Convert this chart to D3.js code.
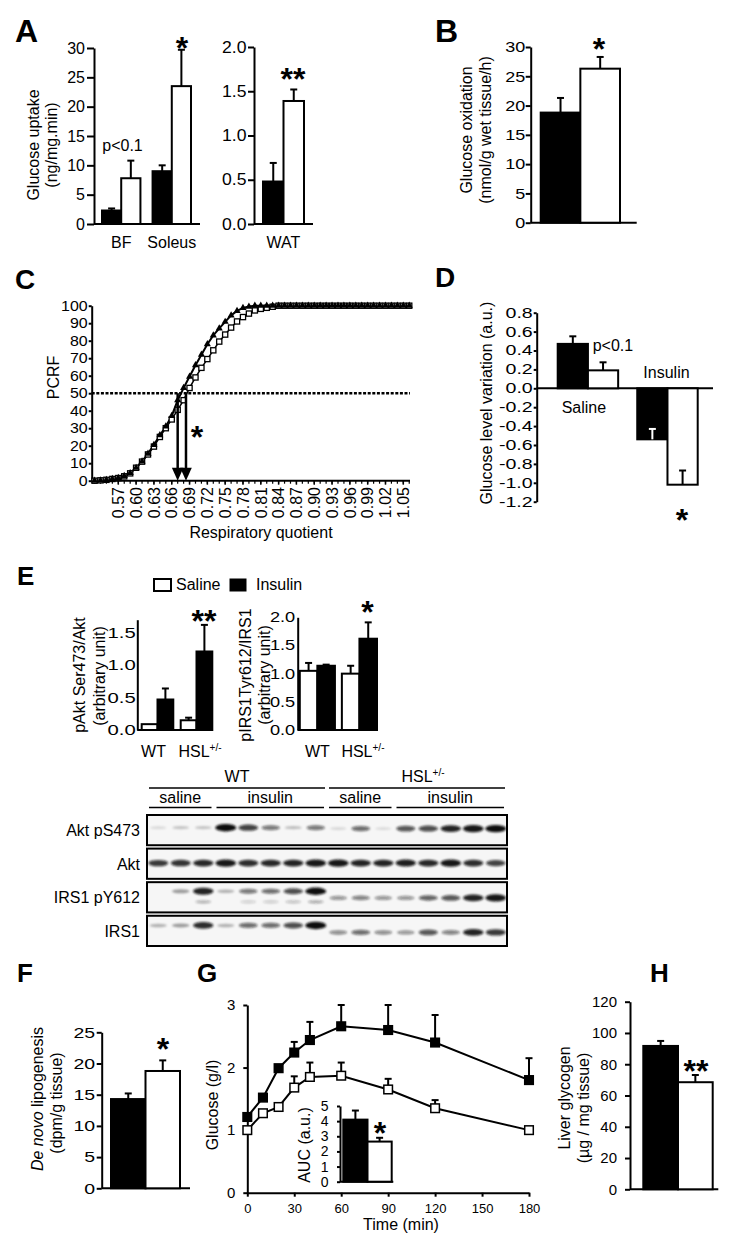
<!DOCTYPE html>
<html><head><meta charset="utf-8">
<script src="https://cdn.jsdelivr.net/npm/d3@7"></script>
<style>body{margin:0;background:#fff}</style>
</head><body>
<script>
// ================= DATA =================
// Panel A – glucose uptake
const aMuscles = ["BF", "Soleus"];
const aMuscleBlack = [2.3, 9.0];
const aMuscleBlackSem = [0.35, 1.0];
const aMuscleWhite = [7.8, 23.5];
const aMuscleWhiteSem = [3.0, 6.2];
const aMuscleTicks = [0, 5, 10, 15, 20, 25, 30];
const aWat = ["WAT"];
const aWatBlack = [0.48];
const aWatBlackSem = [0.21];
const aWatWhite = [1.39];
const aWatWhiteSem = [0.13];
const aWatTicks = [0, 0.5, 1.0, 1.5, 2.0];
// Panel B – glucose oxidation
const bGroup = ["all"];
const bBlack = [18.8];
const bBlackSem = [2.5];
const bWhite = [26.3];
const bWhiteSem = [2.0];
const bTicks = [0, 5, 10, 15, 20, 25, 30];
// Panel C – PCRF vs respiratory quotient
const cRQ = [0.53,0.54,0.55,0.56,0.57,0.58,0.59,0.60,0.61,0.62,0.63,0.64,0.65,0.66,0.67,0.68,0.69,0.70,0.71,0.72,0.73,0.74,0.75,0.76,0.77,0.78,0.79,0.80,0.81,0.82,0.83,0.84,0.85,0.86,0.87,0.88,0.89,0.90,0.91,0.92,0.93,0.94,0.95,0.96,0.97,0.98,0.99,1.00,1.01,1.02,1.03,1.04,1.05,1.06];
const cBlack = [0,0.2,0.5,1,1.6,2.7,4.4,7.4,11,15.5,20.5,26,31,37,46,53,59.5,66,72,78,83,87,90.8,94.5,97,98.7,99.5,100,100,100,100,100,100,100,100,100,100,100,100,100,100,100,100,100,100,100,100,100,100,100,100,100,100,100];
const cWhite = [0,0.2,0.5,1,1.5,2.5,4.2,7.4,10.9,15,19.5,25,30,35,40.5,46,53,59,64.5,69.5,74.5,79.5,83.5,87.5,91,93.5,95.5,97.3,98.2,98.8,99.4,100,100,100,100,100,100,100,100,100,100,100,100,100,100,100,100,100,100,100,100,100,100,100];
const cTickLabels = ["0.57","0.60","0.63","0.66","0.69","0.72","0.75","0.78","0.81","0.84","0.87","0.90","0.93","0.96","0.99","1.02","1.05"];
const cYTicks = [0,10,20,30,40,50,60,70,80,90,100];
const cMedianLine = 50;
const cMedians = [0.670, 0.684];
// Panel D – glucose level variation
const dGroups = ["Saline", "Insulin"];
const dBlack = [0.47, -0.54];
const dBlackSem = [0.08, 0.11];
const dWhite = [0.19, -1.02];
const dWhiteSem = [0.085, 0.15];
const dTicks = [0.8,0.6,0.4,0.2,0.0,-0.2,-0.4,-0.6,-0.8,-1.0,-1.2];
// Panel E – western blot quantification
const eGroups = ["WT", "HSL"];
const eAktSaline = [0.09, 0.15];
const eAktSalineSem = [0.0, 0.04];
const eAktInsulin = [0.47, 1.21];
const eAktInsulinSem = [0.17, 0.41];
const eAktTicks = [0, 0.5, 1.0, 1.5];
const eIrsSaline = [1.05, 1.0];
const eIrsSalineSem = [0.14, 0.14];
const eIrsInsulin = [1.14, 1.62];
const eIrsInsulinSem = [0.02, 0.29];
const eIrsTicks = [0, 0.5, 1.0, 1.5, 2.0];
// Blots (relative band intensity per lane)
const blotRows = ["Akt pS473", "Akt", "IRS1 pY612", "IRS1"];
const blotAktP = [0.03,0.12,0.12,1.0,0.75,0.5,0.15,0.5,0.04,0.55,0.03,0.65,0.7,0.9,0.95,1.0];
const blotAkt = [0.8,0.82,0.88,0.95,0.85,0.88,0.9,0.95,0.95,0.9,0.9,0.92,0.88,0.95,0.85,0.75];
const blotIrsP = [0,0.3,0.9,0.2,0.5,0.55,0.7,1.0,0.35,0.45,0.35,0.35,0.6,0.65,0.9,0.95];
const blotIrs = [0.2,0.3,0.85,0.2,0.55,0.55,0.7,1.0,0.4,0.55,0.4,0.35,0.65,0.45,0.9,0.8];
const blotGenotypes = ["WT", "HSL"];
const blotTreatments = ["saline", "insulin", "saline", "insulin"];
const blotTreatmentLanes = [3, 5, 3, 5];
// Panel F – de novo lipogenesis
const fGroup = ["all"];
const fBlack = [14.3];
const fBlackSem = [0.9];
const fWhite = [18.8];
const fWhiteSem = [1.7];
const fTicks = [0, 5, 10, 15, 20, 25];
// Panel G – glucose tolerance
const gTime = [0, 10, 20, 30, 40, 60, 90, 120, 180];
const gBlack = [1.21, 1.52, 1.99, 2.24, 2.44, 2.66, 2.60, 2.40, 1.80];
const gBlackSem = [0, 0, 0, 0.17, 0.29, 0.34, 0.40, 0.44, 0.35];
const gWhite = [1.0, 1.27, 1.37, 1.68, 1.85, 1.87, 1.65, 1.35, 1.0];
const gWhiteSem = [0, 0, 0, 0.18, 0.23, 0.21, 0.17, 0.13, 0];
const gXTicks = [0, 30, 60, 90, 120, 150, 180];
const gYTicks = [0, 1, 2, 3];
const gAucGroup = ["AUC"];
const gAucBlack = [4.1];
const gAucBlackSem = [0.6];
const gAucWhite = [2.65];
const gAucWhiteSem = [0.25];
const gAucTicks = [0, 1, 2, 3, 4, 5];
// Panel H – liver glycogen
const hGroup = ["all"];
const hBlack = [91.7];
const hBlackSem = [3.2];
const hWhite = [68.5];
const hWhiteSem = [4.6];
const hTicks = [0, 20, 40, 60, 80, 100, 120];

// ================= HELPERS =================
const FONT = "'Liberation Sans', Arial, Helvetica, sans-serif";
const svg = d3.select("body").append("svg")
  .attr("width", 729).attr("height", 1243)
  .attr("font-family", FONT)
  .style("background", "#fff");

const defs = svg.append("defs");
defs.append("filter").attr("id", "blur").attr("x", "-50%").attr("y", "-100%").attr("width", "200%").attr("height", "300%")
  .append("feGaussianBlur").attr("stdDeviation", 1.1);

function txt(g, x, y, s, o = {}) {
  const t = g.append("text").attr("x", x).attr("y", y)
    .attr("font-size", o.fs || 16).attr("fill", "#000")
    .attr("text-anchor", o.anchor || "start");
  if (o.weight) t.attr("font-weight", o.weight);
  if (o.rot) t.attr("transform", `rotate(-90,${x},${y})`);
  t.text(s);
  return t;
}
function star(g, cx, top, s) {
  const fs = 32;
  return txt(g, cx, top + 0.73 * fs, s, { fs, anchor: "middle", weight: "bold" });
}
function letter(g, x, y, s, fs) { return txt(g, x, y, s, { fs, weight: "bold" }); }

function yAxis(g, y, x, ticks, o) {
  const fmt = o.fmt || (v => String(v));
  const ax = d3.axisLeft(y).tickValues(ticks).tickSize(o.ts).tickSizeOuter(0)
    .tickPadding(o.pad).tickFormat(fmt);
  const a = g.append("g").attr("transform", `translate(${x},0)`).call(ax);
  a.attr("font-family", FONT);
  a.select(".domain").attr("stroke", "#000").attr("stroke-width", 2);
  a.selectAll(".tick line").attr("stroke", "#000").attr("stroke-width", 2);
  const t = a.selectAll(".tick text").attr("font-size", o.fs).attr("fill", "#000");
  if (o.sx) t.attr("x", -(o.ts + o.pad) / o.sx).attr("transform", `scale(${o.sx},1)`);
  return a;
}
function hLine(g, x1, x2, y, w = 2) {
  g.append("line").attr("x1", x1).attr("x2", x2).attr("y1", y).attr("y2", y)
    .attr("stroke", "#000").attr("stroke-width", w);
}
function errBar(g, cx, y1, y2, color, cap = 3.5) {
  g.append("line").attr("x1", cx).attr("x2", cx).attr("y1", y1).attr("y2", y2)
    .attr("stroke", color).attr("stroke-width", 2);
  g.append("line").attr("x1", cx - cap).attr("x2", cx + cap).attr("y1", y2).attr("y2", y2)
    .attr("stroke", color).attr("stroke-width", 2);
}
// grouped bars: series = [{vals, sems, fill}]
function bars(g, groups, series, range, pi, y) {
  const xg = d3.scaleBand().domain(groups).range(range).paddingInner(pi).paddingOuter(0);
  const xs = d3.scaleBand().domain(d3.range(series.length)).range([0, xg.bandwidth()]);
  groups.forEach((grp, i) => {
    series.forEach((s, j) => {
      const v = s.vals[i], e = s.sems[i];
      const x0 = xg(grp) + xs(j), w = xs.bandwidth();
      const yv = y(v), y0 = y(0);
      g.append("rect").attr("x", x0).attr("width", w)
        .attr("y", Math.min(yv, y0)).attr("height", Math.abs(yv - y0))
        .attr("fill", s.fill).attr("stroke", "#000").attr("stroke-width", 2);
      if (e > 0) {
        if (v >= 0) errBar(g, x0 + w / 2, yv, y(v + e), "#000");
        else errBar(g, x0 + w / 2, yv, y(v + e), s.fill === "#000" ? "#fff" : "#000");
      }
    });
  });
  return xg;
}
const BLACK = "#000", WHITE = "#fff";

// ================= PANEL A =================
{
  const g = svg.append("g");
  letter(g, 15, 42, "A", 32);
  const y = d3.scaleLinear().domain([0, 30]).range([224, 48]);
  yAxis(g, y, 94, aMuscleTicks, { ts: 7, pad: 2, fs: 16 });
  hLine(g, 94, 200, y(0));
  const xg = bars(g, aMuscles, [
    { vals: aMuscleBlack, sems: aMuscleBlackSem, fill: BLACK },
    { vals: aMuscleWhite, sems: aMuscleWhiteSem, fill: WHITE }], [102, 191], 0.24, y);
  aMuscles.forEach(m => txt(g, xg(m) + xg.bandwidth() / 2, 248, m, { anchor: "middle" }));
  txt(g, 122.5, 151, "p<0.1", { anchor: "middle" });
  star(g, 182, 36, "*");
  txt(g, 39, 145, "Glucose uptake", { rot: true, anchor: "middle" });
  txt(g, 57, 145, "(ng/mg.min)", { rot: true, anchor: "middle" });

  const y2 = d3.scaleLinear().domain([0, 2]).range([224, 47]);
  yAxis(g, y2, 254, aWatTicks, { ts: 6, pad: 1.5, fs: 16, sx: 1.1, fmt: v => v.toFixed(1) });
  hLine(g, 254, 313, y2(0));
  const xw = bars(g, aWat, [
    { vals: aWatBlack, sems: aWatBlackSem, fill: BLACK },
    { vals: aWatWhite, sems: aWatWhiteSem, fill: WHITE }], [263, 304], 0, y2);
  txt(g, xw("WAT") + xw.bandwidth() / 2, 248, "WAT", { anchor: "middle" });
  star(g, 293, 67, "**");
}

// ================= PANEL B =================
{
  const g = svg.append("g");
  letter(g, 435, 42, "B", 32);
  const y = d3.scaleLinear().domain([0, 30]).range([222.7, 47]);
  yAxis(g, y, 530.7, bTicks, { ts: 5, pad: 0.5, fs: 15, sx: 1.2 });
  hLine(g, 530.7, 636.7, y(0));
  bars(g, bGroup, [
    { vals: bBlack, sems: bBlackSem, fill: BLACK },
    { vals: bWhite, sems: bWhiteSem, fill: WHITE }], [540.7, 620], 0, y);
  star(g, 599, 37, "*");
  txt(g, 472, 130, "Glucose oxidation", { rot: true, anchor: "middle" });
  txt(g, 491, 130, "(nmol/g wet tissue/h)", { rot: true, anchor: "middle" });
}

// ================= PANEL C =================
{
  const g = svg.append("g");
  letter(g, 15, 289, "C", 28);
  const x = d3.scaleLinear().domain([0.57, 1.05]).range([118.3, 403.3]);
  const y = d3.scaleLinear().domain([0, 100]).range([480.7, 305.7]);
  yAxis(g, y, 91.7, cYTicks, { ts: 3, pad: 1, fs: 14, sx: 1.14 });
  hLine(g, 91.7, 410, y(0));
  cRQ.forEach(r => g.append("line").attr("x1", x(r)).attr("x2", x(r))
    .attr("y1", y(0)).attr("y2", y(0) + 3).attr("stroke", "#000").attr("stroke-width", 1.2));
  cTickLabels.forEach(l => {
    const xx = x(+l);
    g.append("line").attr("x1", xx).attr("x2", xx).attr("y1", y(0)).attr("y2", y(0) + 4)
      .attr("stroke", "#000").attr("stroke-width", 1.5);
    g.append("text").attr("x", xx).attr("y", 487).attr("dy", "0.36em")
      .attr("text-anchor", "end").attr("font-size", 16)
      .attr("transform", `rotate(-90,${xx},487)`).text(l);
  });
  g.append("line").attr("x1", 91.7).attr("x2", 410).attr("y1", y(cMedianLine)).attr("y2", y(cMedianLine))
    .attr("stroke", "#000").attr("stroke-width", 2.5).attr("stroke-dasharray", "3,1.6");
  const ptsB = cRQ.map((r, i) => [x(r), y(cBlack[i])]);
  const ptsW = cRQ.map((r, i) => [x(r), y(cWhite[i])]);
  const line = d3.line();
  g.append("path").attr("d", line(ptsW)).attr("fill", "none").attr("stroke", "#000").attr("stroke-width", 1.5);
  g.append("path").attr("d", line(ptsB)).attr("fill", "none").attr("stroke", "#000").attr("stroke-width", 2);
  ptsW.forEach(p => g.append("rect").attr("x", p[0] - 2.6).attr("y", p[1] - 2.6)
    .attr("width", 5.2).attr("height", 5.2).attr("fill", "#fff").attr("stroke", "#000").attr("stroke-width", 1.3));
  const tri = d3.symbol().type(d3.symbolTriangle).size(22);
  ptsB.forEach(p => g.append("path").attr("d", tri()).attr("transform", `translate(${p[0]},${p[1]})`).attr("fill", "#000"));
  cMedians.forEach(m => {
    const xx = x(m);
    g.append("line").attr("x1", xx).attr("x2", xx).attr("y1", y(cMedianLine)).attr("y2", y(0) - 10)
      .attr("stroke", "#000").attr("stroke-width", 2.5);
    g.append("path").attr("d", `M${xx - 5.8},${y(0) - 13}L${xx + 5.8},${y(0) - 13}L${xx},${y(0)}Z`).attr("fill", "#000");
  });
  star(g, 197, 425, "*");
  txt(g, 59, 377.5, "PCRF", { rot: true, anchor: "middle" });
  txt(g, 261, 537.5, "Respiratory quotient", { anchor: "middle" });
}

// ================= PANEL D =================
{
  const g = svg.append("g");
  letter(g, 435, 287, "D", 28);
  const y = d3.scaleLinear().domain([-1.2, 0.8]).range([501.7, 312.7]);
  yAxis(g, y, 536.7, dTicks, { ts: 3, pad: 1, fs: 14, sx: 1.4, fmt: v => v.toFixed(1) });
  hLine(g, 536.7, 713, y(0));
  const xg = bars(g, dGroups, [
    { vals: dBlack, sems: dBlackSem, fill: BLACK },
    { vals: dWhite, sems: dWhiteSem, fill: WHITE }], [557.7, 697.7], 0.24, y);
  txt(g, 592.7, 351, "p<0.1");
  txt(g, xg("Saline") + xg.bandwidth() / 2 - 4, 413, "Saline", { anchor: "middle" });
  txt(g, xg("Insulin") + xg.bandwidth() / 2 - 1, 378, "Insulin", { anchor: "middle" });
  star(g, 682, 508, "*");
  txt(g, 492, 403, "Glucose level variation (a.u.)", { rot: true, anchor: "middle" });
}

// ================= PANEL E =================
function hslLabel(g, x, y, anchor = "middle", fs = 16) {
  const t = g.append("text").attr("x", x).attr("y", y).attr("font-size", fs)
    .attr("text-anchor", anchor).attr("fill", "#000");
  t.append("tspan").text("HSL");
  t.append("tspan").attr("dy", -6).attr("font-size", 10).text("+/-");
  return t;
}
{
  const g = svg.append("g");
  letter(g, 17, 585, "E", 26);
  g.append("rect").attr("x", 154).attr("y", 579).attr("width", 17).attr("height", 12)
    .attr("fill", "#fff").attr("stroke", "#000").attr("stroke-width", 2);
  txt(g, 176, 590, "Saline");
  g.append("rect").attr("x", 229.5).attr("y", 578.5).attr("width", 17).attr("height", 13).attr("fill", "#000");
  txt(g, 256, 590, "Insulin");

  const y = d3.scaleLinear().domain([0, 1.7]).range([730, 619.7]);
  yAxis(g, y, 137.3, eAktTicks, { ts: 0, pad: 1.5, fs: 14, sx: 1.45, fmt: v => v.toFixed(1) });
  hLine(g, 137.3, 213, y(0));
  const xg = bars(g, eGroups, [
    { vals: eAktSaline, sems: eAktSalineSem, fill: WHITE },
    { vals: eAktInsulin, sems: eAktInsulinSem, fill: BLACK }], [141.7, 212.3], 0.19, y);
  txt(g, xg("WT") + xg.bandwidth() / 2 - 4, 757, "WT", { anchor: "middle" });
  hslLabel(g, xg("HSL") + xg.bandwidth() / 2 + 3.5, 757);
  star(g, 204, 609, "**");
  txt(g, 85, 675, "pAkt Ser473/Akt", { rot: true, anchor: "middle" });
  txt(g, 104.5, 676, "(arbitrary unit)", { rot: true, anchor: "middle" });

  const y2 = d3.scaleLinear().domain([0, 2]).range([730, 617.3]);
  yAxis(g, y2, 297.7, eIrsTicks, { ts: 0, pad: 2.5, fs: 14, sx: 1.3, fmt: v => v.toFixed(1) });
  hLine(g, 297.7, 378, y2(0));
  const xg2 = bars(g, eGroups, [
    { vals: eIrsSaline, sems: eIrsSalineSem, fill: WHITE },
    { vals: eIrsInsulin, sems: eIrsInsulinSem, fill: BLACK }], [299.8, 377], 0.165, y2);
  txt(g, xg2("WT") + xg2.bandwidth() / 2, 757, "WT", { anchor: "middle" });
  hslLabel(g, xg2("HSL") + xg2.bandwidth() / 2 + 3.5, 757);
  star(g, 367.5, 600, "*");
  txt(g, 251, 675, "pIRS1Tyr612/IRS1", { rot: true, anchor: "middle" });
  txt(g, 270, 675, "(arbitrary unit)", { rot: true, anchor: "middle" });

  // ---- blots ----
  const nL = blotAktP.length;
  const lane = d3.scaleBand().domain(d3.range(nL)).range([147, 507]);
  const rowY = d3.scaleBand().domain(blotRows).range([815, 946]).paddingInner(0.1);
  const intens = [blotAktP, blotAkt, blotIrsP, blotIrs];
  const bandPos = [[0.42, 0.45], [0.48, 0.48], [0.3, 0.52], [0.32, 0.55]];
  let start = 0;
  const genoLanes = [blotTreatmentLanes[0] + blotTreatmentLanes[1], blotTreatmentLanes[2] + blotTreatmentLanes[3]];
  blotGenotypes.forEach((gt, i) => {
    const x1 = lane(start) + 2, x2 = lane(start + genoLanes[i] - 1) + lane.bandwidth() - 2;
    hLine(g, x1, x2, 788, 1.5);
    if (gt === "WT") txt(g, (x1 + x2) / 2, 782, "WT", { anchor: "middle" });
    else hslLabel(g, (x1 + x2) / 2 + 6, 782);
    start += genoLanes[i];
  });
  start = 0;
  blotTreatments.forEach((tr, i) => {
    const x1 = lane(start) + 2, x2 = lane(start + blotTreatmentLanes[i] - 1) + lane.bandwidth() - 3;
    hLine(g, x1, x2, 807.5, 1.5);
    txt(g, (x1 + x2) / 2, 803, tr, { anchor: "middle" });
    start += blotTreatmentLanes[i];
  });
  blotRows.forEach((r, ri) => {
    const top = rowY(r), h = rowY.bandwidth();
    g.append("rect").attr("x", 147).attr("y", top).attr("width", 360).attr("height", h)
      .attr("fill", "#f6f6f6").attr("stroke", "none");
    const bg = g.append("g").attr("filter", "url(#blur)");
    intens[ri].forEach((v, li) => {
      if (v <= 0.01) return;
      const pos = li < 8 ? bandPos[ri][0] : bandPos[ri][1];
      const cy = top + h * pos;
      bg.append("ellipse").attr("cx", lane(li) + lane.bandwidth() / 2).attr("cy", cy)
        .attr("rx", 8 + 2.5 * v).attr("ry", 1.3 + 2.4 * v)
        .attr("fill", "#111").attr("fill-opacity", Math.min(1, 0.1 + 0.9 * v));
      if (ri === 2 && li < 8 && v > 0.45) {
        bg.append("ellipse").attr("cx", lane(li) + lane.bandwidth() / 2).attr("cy", top + h * 0.65)
          .attr("rx", 8).attr("ry", 1.6).attr("fill", "#222").attr("fill-opacity", 0.35 * v);
      }
    });
    g.append("rect").attr("x", 147).attr("y", top).attr("width", 360).attr("height", h)
      .attr("fill", "none").attr("stroke", "#000").attr("stroke-width", 2);
    txt(g, 140, top + h / 2 + 6, r, { anchor: "end" });
  });
}

// ================= PANEL F =================
{
  const g = svg.append("g");
  letter(g, 17, 982, "F", 26);
  const y = d3.scaleLinear().domain([0, 25]).range([1188.3, 1032.3]);
  yAxis(g, y, 101.7, fTicks, { ts: 5, pad: 1.5, fs: 15, sx: 1.3 });
  hLine(g, 101.7, 190, y(0));
  bars(g, fGroup, [
    { vals: fBlack, sems: fBlackSem, fill: BLACK },
    { vals: fWhite, sems: fWhiteSem, fill: WHITE }], [111, 180], 0, y);
  star(g, 163, 1037, "*");
  const t = g.append("text").attr("x", 43).attr("y", 1099).attr("font-size", 16)
    .attr("text-anchor", "middle").attr("transform", "rotate(-90,43,1099)");
  t.append("tspan").attr("font-style", "italic").text("De novo");
  t.append("tspan").text(" lipogenesis");
  txt(g, 62, 1103, "(dpm/g tissue)", { rot: true, anchor: "middle" });
}

// ================= PANEL G =================
{
  const g = svg.append("g");
  letter(g, 197, 982, "G", 26);
  const x = d3.scaleLinear().domain([0, 180]).range([247.3, 529]);
  const y = d3.scaleLinear().domain([0, 3]).range([1192.7, 1005]);
  yAxis(g, y, 247.3, gYTicks, { ts: 4, pad: 8, fs: 15 });
  const ax = g.append("g").attr("transform", `translate(0,${y(0)})`)
    .call(d3.axisBottom(x).tickValues(gXTicks).tickSize(4).tickSizeOuter(0).tickPadding(7));
  ax.attr("font-family", FONT);
  ax.select(".domain").attr("stroke", "#000").attr("stroke-width", 2);
  ax.selectAll(".tick line").attr("stroke", "#000").attr("stroke-width", 2);
  ax.selectAll(".tick text").attr("font-size", 13).attr("fill", "#000");
  txt(g, 401, 1230, "Time (min)", { anchor: "middle" });
  txt(g, 218, 1105, "Glucose (g/l)", { rot: true, anchor: "middle" });

  const series = [
    { vals: gBlack, sems: gBlackSem, fill: "#000" },
    { vals: gWhite, sems: gWhiteSem, fill: "#fff" }];
  series.forEach(s => {
    const pts = gTime.map((t, i) => [x(t), y(s.vals[i])]);
    g.append("path").attr("d", d3.line()(pts)).attr("fill", "none").attr("stroke", "#000").attr("stroke-width", 2);
    gTime.forEach((t, i) => { if (s.sems[i] > 0) errBar(g, x(t), y(s.vals[i]), y(s.vals[i] + s.sems[i]), "#000", 3.5); });
    pts.forEach(p => g.append("rect").attr("x", p[0] - 4.3).attr("y", p[1] - 4.3).attr("width", 8.6).attr("height", 8.6)
      .attr("fill", s.fill).attr("stroke", "#000").attr("stroke-width", 1.5));
  });

  const yi = d3.scaleLinear().domain([0, 5]).range([1181.7, 1106]);
  yAxis(g, yi, 340, gAucTicks, { ts: 3, pad: 8.5, fs: 14 });
  hLine(g, 340, 393.3, yi(0));
  bars(g, gAucGroup, [
    { vals: gAucBlack, sems: gAucBlackSem, fill: BLACK },
    { vals: gAucWhite, sems: gAucWhiteSem, fill: WHITE }], [343.3, 391.7], 0, yi);
  star(g, 380, 1121, "*");
  txt(g, 310, 1145, "AUC (a.u.)", { rot: true, anchor: "middle" });
}

// ================= PANEL H =================
{
  const g = svg.append("g");
  letter(g, 650, 982, "H", 26);
  const y = d3.scaleLinear().domain([0, 120]).range([1189.3, 1001.7]);
  yAxis(g, y, 630, hTicks, { ts: 5, pad: 8, fs: 15 });
  hLine(g, 630, 718.3, y(0));
  bars(g, hGroup, [
    { vals: hBlack, sems: hBlackSem, fill: BLACK },
    { vals: hWhite, sems: hWhiteSem, fill: WHITE }], [643.3, 712.7], 0, y);
  star(g, 696, 1059, "**");
  txt(g, 570, 1098, "Liver glycogen", { rot: true, anchor: "middle" });
  txt(g, 588.5, 1108, "(\u00b5g / mg tissue)", { rot: true, anchor: "middle" });
}
</script>
</body></html>
